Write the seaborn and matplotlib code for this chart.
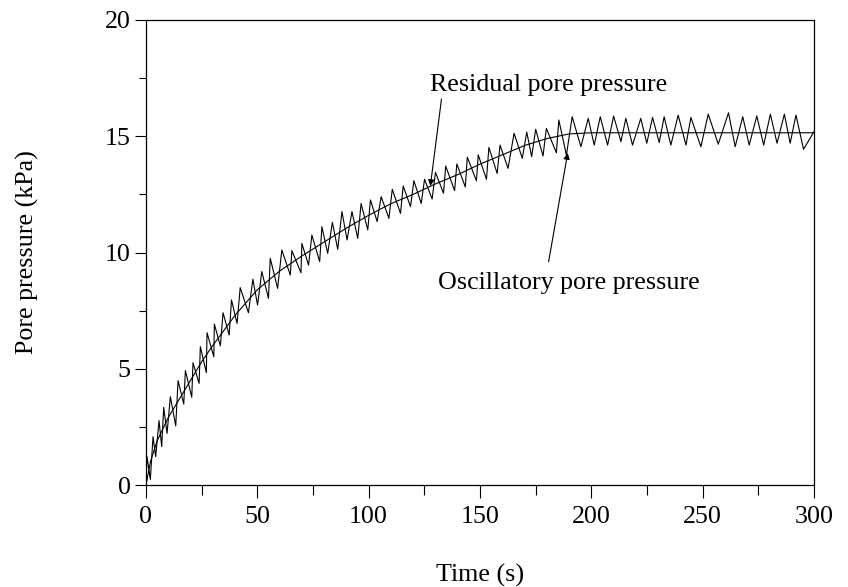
import numpy as np
import pandas as pd
import matplotlib
matplotlib.use("Agg")
import matplotlib.pyplot as plt
from matplotlib.ticker import MultipleLocator
import seaborn as sns

# ---- data ----
t_osc = [0, 0.45, 1.95, 3.15, 4.35, 5.85, 7.05, 7.95, 9.45, 10.95,
         13.35, 14.4, 16.95, 17.7, 20.55, 21.1, 23.85, 24.4, 27.1, 27.4,
         30.45, 30.7, 33.4, 34.6, 37.35, 38.4, 40.9, 42.3, 46.0, 48.0,
         50.1, 52.0, 55.0, 55.8, 59.1, 61.0, 64.8, 65.5, 69.6, 70.0,
         73.0, 74.5, 78.0, 79.0, 81.6, 83.7, 86.1, 88.0, 90.3, 92.5,
         95.1, 96.6, 99.6, 100.8, 103.8, 105.6, 109.1, 110.6, 114.3, 115.5,
         118.8, 120.3, 123.6, 125.1, 128.5, 130.0, 133.6, 134.6, 138.6, 139.6,
         143.4, 144.3, 148.4, 149.2, 152.9, 154.0, 157.7, 159.0, 162.6, 165.3,
         169.0, 171.0, 173.2, 175.0, 178.3, 179.8, 184.3, 185.4, 188.8, 191.4,
         195.3, 198.6, 201.3, 204.0, 207.3, 210.0, 213.3, 215.5, 218.5, 222.2,
         224.9, 227.5, 230.5, 232.7, 235.7, 239.0, 242.5, 244.7, 249.2, 252.5,
         257.0, 261.6, 264.6, 268.0, 270.9, 274.3, 277.4, 280.4, 283.4, 286.7,
         289.3, 291.9, 295.3, 300.0]
p_osc = [0.1, 1.22, 0.24, 2.08, 1.22, 2.77, 1.65, 3.34, 2.22, 3.80,
         2.54, 4.49, 3.48, 4.92, 3.77, 5.26, 4.37, 5.95, 4.83, 6.55,
         5.52, 6.92, 5.98, 7.41, 6.45, 7.96, 6.95, 8.49, 7.41, 8.85,
         7.74, 9.18, 8.03, 9.75, 8.46, 10.11, 9.03, 10.08, 9.13, 10.39,
         9.46, 10.75, 9.61, 11.11, 9.96, 11.30, 10.14, 11.76, 10.54, 11.76,
         10.61, 12.11, 10.97, 12.26, 11.33, 12.40, 11.47, 12.72, 11.68, 12.86,
         11.97, 13.09, 12.11, 13.15, 12.30, 13.45, 12.55, 13.72, 12.66, 13.81,
         12.82, 14.10, 13.08, 14.20, 13.15, 14.52, 13.40, 14.62, 13.62, 15.13,
         14.05, 15.18, 14.12, 15.30, 14.15, 15.34, 14.29, 15.70, 14.19, 15.84,
         14.55, 15.77, 14.62, 15.84, 14.62, 15.87, 14.77, 15.77, 14.62, 15.77,
         14.70, 15.81, 14.73, 15.84, 14.62, 15.91, 14.62, 15.81, 14.55, 15.95,
         14.66, 16.01, 14.55, 15.84, 14.62, 15.87, 14.62, 15.95, 14.70, 15.95,
         14.70, 15.91, 14.44, 15.20]

t_res = [0, 2, 5, 10, 15, 20, 25, 30, 40, 50, 60, 70, 80, 90, 100, 110,
         120, 130, 140, 150, 160, 170, 180, 190, 200, 250, 300]
p_res = [0.0, 1.0, 1.9, 2.9, 3.7, 4.5, 5.3, 6.0, 7.3, 8.4, 9.2, 9.85, 10.45,
         11.05, 11.6, 12.1, 12.5, 12.95, 13.35, 13.8, 14.2, 14.6, 14.9, 15.1,
         15.15, 15.15, 15.15]

x_ticks = [0, 50, 100, 150, 200, 250, 300]
y_ticks = [0, 5, 10, 15, 20]
x_label = "Time (s)"
y_label = "Pore pressure (kPa)"
label_res = "Residual pore pressure"
label_osc = "Oscillatory pore pressure"

# ---- styling ----
sns.set_theme(style="ticks")
plt.rcParams["font.family"] = ["Liberation Serif", "DejaVu Serif"]
plt.rcParams["mathtext.fontset"] = "stix"

FS = 18.7
fig = plt.figure(figsize=(8.48, 5.87), dpi=100)
ax = fig.add_axes([146 / 848, 1 - 485 / 587, 668 / 848, 465 / 587])

df_osc = pd.DataFrame({"t": t_osc, "p": p_osc})
df_res = pd.DataFrame({"t": t_res, "p": p_res})

sns.lineplot(data=df_osc, x="t", y="p", ax=ax, color="black", lw=0.8,
             estimator=None, sort=False)
sns.lineplot(data=df_res, x="t", y="p", ax=ax, color="black", lw=0.8,
             estimator=None, sort=False)

ax.set_xlim(0, 300)
ax.set_ylim(0, 20)
ax.set_xticks(x_ticks)
ax.set_yticks(y_ticks)
ax.xaxis.set_minor_locator(MultipleLocator(25))
ax.yaxis.set_minor_locator(MultipleLocator(2.5))
ax.tick_params(axis="both", which="major", labelsize=FS, direction="out",
               color="black", labelcolor="black", width=0.8)
ax.tick_params(axis="x", which="major", length=9, pad=6)
ax.tick_params(axis="x", which="minor", length=7, width=0.8, color="black")
ax.tick_params(axis="y", which="major", length=8, pad=3)
ax.tick_params(axis="y", which="minor", length=5, width=0.8, color="black")

for s in ax.spines.values():
    s.set_visible(True)
    s.set_color("black")
    s.set_linewidth(0.9)

ax.set_xlabel(x_label, fontsize=FS, color="black")
ax.set_ylabel(y_label, fontsize=FS, color="black")
ax.xaxis.set_label_coords(0.5, -0.17)
ax.yaxis.set_label_coords(-0.16, 0.5)

ax.text(127.7, 17.2, label_res, fontsize=FS, ha="left", va="center",
        color="black")
ax.text(131.3, 8.69, label_osc, fontsize=FS, ha="left", va="center",
        color="black")

arrow_kw = dict(arrowstyle="-|>", color="black", lw=0.8, mutation_scale=9,
                shrinkA=0, shrinkB=0)
ax.annotate("", xy=(127.7, 12.86), xytext=(132.7, 16.6), arrowprops=arrow_kw)
ax.annotate("", xy=(189.4, 14.28), xytext=(180.8, 9.6), arrowprops=arrow_kw)

fig.savefig("out.png", dpi=100, facecolor="white")
